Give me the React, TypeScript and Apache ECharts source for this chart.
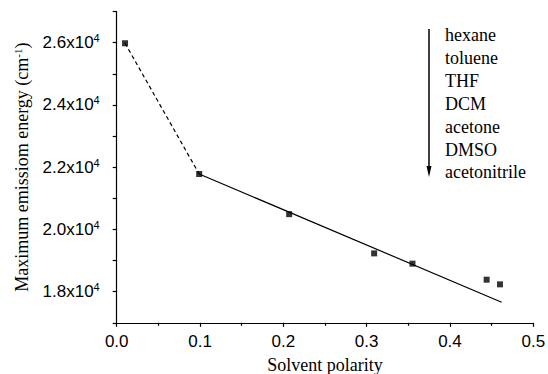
import React, { useEffect, useRef } from "react";
import * as echarts from "echarts";

const polarity = [0.01, 0.099, 0.207, 0.309, 0.355, 0.444, 0.46];
const energy = [25980, 21780, 20490, 19230, 18900, 18385, 18235];
const dashedFit = [
  [0.01, 25980],
  [0.099, 21780],
];
const solidFit = [
  [0.099, 21780],
  [0.462, 17660],
];
const solvents = ["hexane", "toluene", "THF", "DCM", "acetone", "DMSO", "acetonitrile"];
const yLabelValues = [18000, 20000, 22000, 24000, 26000];

export default function App() {
  const ref = useRef<HTMLDivElement>(null);
  useEffect(() => {
    if (!ref.current) return;
    const chart = echarts.init(ref.current, null, { renderer: "svg" });
    const legendX = 445;
    const legendTop = 35;
    const legendStep = 22.9;
    const graphics: any[] = solvents.map((s, i) => ({
      type: "text",
      x: legendX,
      y: legendTop + i * legendStep,
      style: {
        text: s,
        font: "18px 'Liberation Serif'",
        fontFamily: "Liberation Serif",
        fontSize: 18,
        fill: "#000",
        verticalAlign: "middle",
      },
    }));
    graphics.push({
      type: "line",
      shape: { x1: 429, y1: 29, x2: 429, y2: 168 },
      style: { stroke: "#000", lineWidth: 1.5 },
    });
    graphics.push({
      type: "polygon",
      shape: { points: [[426.5, 166], [431.5, 166], [429, 177]] },
      style: { fill: "#000" },
    });
    chart.setOption({
      animation: false,
      backgroundColor: "#fff",
      grid: {
        left: 116.7,
        right: 14.7,
        top: 11.5,
        bottom: 51.2,
        containLabel: false,
        outerBoundsMode: "none",
      },
      xAxis: {
        type: "value",
        min: 0,
        max: 0.5,
        interval: 0.1,
        name: "Solvent polarity",
        nameLocation: "middle",
        nameGap: 33,
        nameTextStyle: { fontFamily: "Liberation Serif", fontSize: 18, color: "#000", lineHeight: 18 },
        axisLine: { show: true, onZero: false, lineStyle: { color: "#000", width: 1.2 } },
        axisTick: { show: true, inside: false, length: 4, lineStyle: { color: "#000", width: 1.2 } },
        minorTick: { show: true, splitNumber: 2, length: 3, lineStyle: { color: "#000", width: 1.2 } },
        splitLine: { show: false },
        axisLabel: {
          margin: 10,
          fontFamily: "Liberation Sans",
          fontSize: 17,
          color: "#000",
          formatter: (v: number) => v.toFixed(1),
        },
      },
      yAxis: {
        type: "value",
        min: 17000,
        max: 27000,
        interval: 1000,
        name: "Maximum emissiom energy (cm{s|-1})",
        nameLocation: "middle",
        nameGap: 86,
        nameTextStyle: {
          fontFamily: "Liberation Serif",
          fontSize: 18,
          color: "#000",
          rich: {
            s: { fontFamily: "Liberation Serif", fontSize: 11, verticalAlign: "top", lineHeight: 11, color: "#000" },
          },
        },
        axisLine: { show: true, onZero: false, lineStyle: { color: "#000", width: 1.2 } },
        axisTick: { show: true, inside: false, length: 4, lineStyle: { color: "#000", width: 1.2 } },
        splitLine: { show: false },
        axisLabel: {
          margin: 17,
          color: "#000",
          formatter: (v: number) => {
            if (!yLabelValues.includes(Math.round(v))) return "";
            return `{a|${(v / 10000).toFixed(1)}x10}{b|4}`;
          },
          rich: {
            a: { fontFamily: "Liberation Sans", fontSize: 17, color: "#000", lineHeight: 20 },
            b: { fontFamily: "Liberation Sans", fontSize: 11, color: "#000", verticalAlign: "top", lineHeight: 11 },
          },
        },
      },
      series: [
        {
          type: "line",
          data: dashedFit,
          symbol: "none",
          lineStyle: { color: "#000", width: 1.2, type: [4, 3] },
          z: 2,
        },
        {
          type: "line",
          data: solidFit,
          symbol: "none",
          lineStyle: { color: "#000", width: 1.2, type: "solid" },
          z: 2,
        },
        {
          type: "scatter",
          data: polarity.map((p, i) => [p, energy[i]]),
          symbol: "rect",
          symbolSize: 6,
          itemStyle: { color: "#000" },
          z: 3,
        },
      ],
      graphic: graphics,
    });
    return () => chart.dispose();
  }, []);
  return (
    <div
      ref={ref}
      style={{ position: "fixed", left: 0, top: 0, width: 548, height: 374 }}
    />
  );
}
